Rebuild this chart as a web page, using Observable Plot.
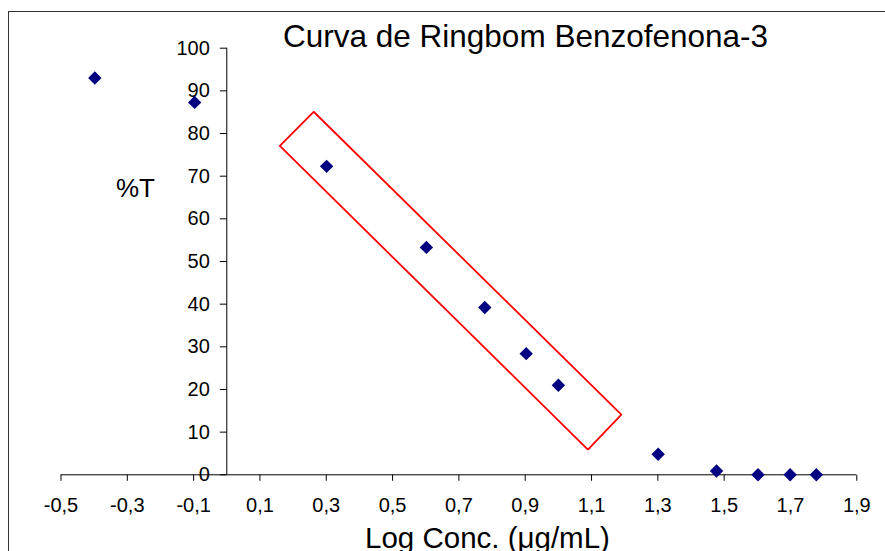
<!DOCTYPE html>
<html>
<head>
<meta charset="utf-8">
<script src="https://cdn.jsdelivr.net/npm/d3@7"></script>
<script src="https://cdn.jsdelivr.net/npm/@observablehq/plot@0.6"></script>
<style>
  html, body { margin: 0; padding: 0; background: #fff; }
  #wrap { position: relative; width: 885px; height: 551px; overflow: hidden; font-family: "Liberation Sans", Arial, sans-serif; }
  #border { position: absolute; left: 8px; top: 11px; width: 1000px; height: 1000px; border: 1.5px solid #333; box-sizing: border-box; }
  .lbl { position: absolute; white-space: nowrap; color: #000; line-height: 1; }
  #chart { position: absolute; left: 0; top: 0; }
</style>
</head>
<body>
<div id="wrap">
  <div id="border"></div>
  <div id="chart"></div>
  <div class="lbl" id="title" style="left:283px; top:21px; font-size:31.5px;">Curva de Ringbom Benzofenona-3</div>
  <div class="lbl" id="ylab" style="left:116px; top:175px; font-size:26px;">%T</div>
  <div class="lbl" id="xlab" style="left:365px; top:523px; font-size:29.5px;">Log Conc. (μg/mL)</div>
</div>
<script>
// Data
const logConc = [-0.398, -0.097, 0.301, 0.602, 0.778, 0.903, 1.0, 1.301, 1.477, 1.602, 1.699, 1.778];
const transmitance = [93.0, 87.3, 72.3, 53.3, 39.2, 28.4, 21.0, 4.8, 0.9, 0.0, 0.0, 0.0];

const xTicks = [-0.5, -0.3, -0.1, 0.1, 0.3, 0.5, 0.7, 0.9, 1.1, 1.3, 1.5, 1.7, 1.9];
const xTickLabels = ["-0,5", "-0,3", "-0,1", "0,1", "0,3", "0,5", "0,7", "0,9", "1,1", "1,3", "1,5", "1,7", "1,9"];
const yTicks = [0, 10, 20, 30, 40, 50, 60, 70, 80, 90, 100];
const yTickLabels = ["0", "10", "20", "30", "40", "50", "60", "70", "80", "90", "100"];

// Red highlight box (corners, in data units)
const boxX = [0.160, 0.262, 1.190, 1.089, 0.160];
const boxY = [77.1, 85.1, 14.1, 5.9, 77.1];

const points = logConc.map((x, i) => ({x, y: transmitance[i]}));
const box = boxX.map((x, i) => ({x, y: boxY[i]}));
const xt = xTicks.map((v, i) => ({v, label: xTickLabels[i]}));
const yt = yTicks.map((v, i) => ({v, label: yTickLabels[i]}));

const diamond = {draw(ctx) { const h = 6.7; ctx.moveTo(0, -h); ctx.lineTo(h, 0); ctx.lineTo(0, h); ctx.lineTo(-h, 0); ctx.closePath(); }};
const tickLeft = {draw(ctx) { ctx.moveTo(-7, 0); ctx.lineTo(0, 0); }};
const tickDown = {draw(ctx) { ctx.moveTo(0, 0); ctx.lineTo(0, 6); }};

const chart = Plot.plot({
  width: 885,
  height: 551,
  marginLeft: 60.5,
  marginRight: 28.7,
  marginTop: 47.7,
  marginBottom: 76.7,
  x: {domain: [-0.5, 1.9], axis: null},
  y: {domain: [0, 100], axis: null},
  style: {fontFamily: "Liberation Sans, Arial, sans-serif", background: "transparent", overflow: "visible"},
  marks: [
    Plot.ruleY([0], {x1: xTicks[0], x2: xTicks[xTicks.length - 1], stroke: "#000", strokeWidth: 1}),
    Plot.ruleX([0], {y1: yTicks[0], y2: yTicks[yTicks.length - 1], stroke: "#000", strokeWidth: 1}),
    Plot.dot(yt, {x: 0, y: "v", symbol: tickLeft, stroke: "#000", fill: "none", strokeWidth: 1}),
    Plot.dot(xt, {x: "v", y: 0, symbol: tickDown, stroke: "#000", fill: "none", strokeWidth: 1}),
    Plot.text(yt, {x: 0, y: "v", text: "label", textAnchor: "end", dx: -17, fontSize: 20, fill: "#000"}),
    Plot.text(xt, {x: "v", y: 0, text: "label", dy: 31, fontSize: 20, fill: "#000"}),
    Plot.line(box, {x: "x", y: "y", stroke: "red", strokeWidth: 1.8, strokeLinejoin: "miter", curve: "linear"}),
    Plot.dot(points, {x: "x", y: "y", symbol: diamond, fill: "#000080", stroke: "none"})
  ]
});
document.getElementById("chart").appendChild(chart);
</script>
</body>
</html>
